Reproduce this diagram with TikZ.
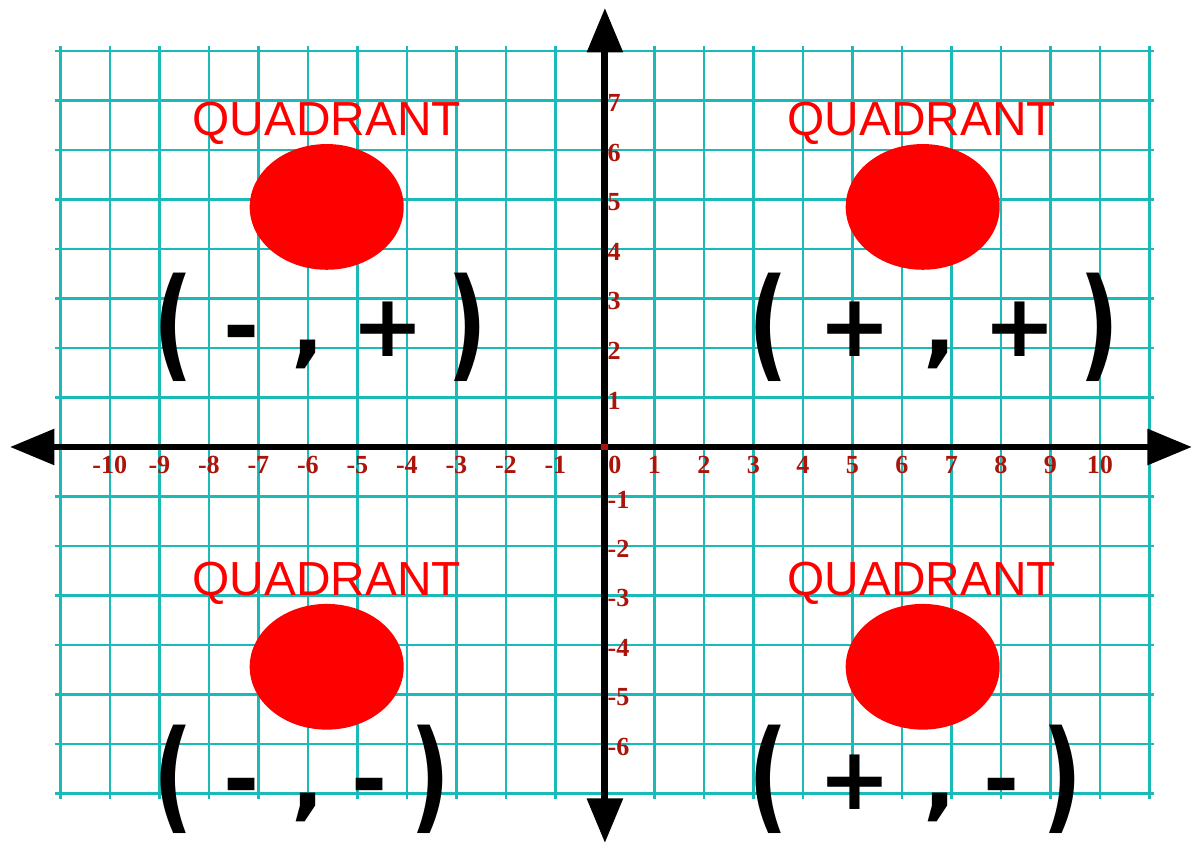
\documentclass[tikz,border=0pt]{standalone}
\usepackage{fontspec}
\usepackage{graphicx}
\usetikzlibrary{arrows.meta}
\newfontfamily\quadfont{Liberation Sans}
\newfontfamily\signfont{DejaVu Sans}
\newfontfamily\numfont{Liberation Serif}
\definecolor{gridteal}{RGB}{26,186,184}
\definecolor{numred}{RGB}{170,20,10}
\newcommand{\tallparen}[1]{\raisebox{-0.1em}{\scalebox{1}[1.4]{#1}}}
\newcommand{\signpair}[2]{\tallparen{(}\hspace{0.348em}#1\hspace{0.36em},\hspace{0.31em}#2\hspace{0.27em}\tallparen{)}}

\begin{document}
\begin{tikzpicture}[x=1cm, y=1cm,
    axis/.style={line width=4pt,
      {Triangle[length=0.9cm, width=0.7cm]}-{Triangle[length=0.9cm, width=0.7cm]}},
    quad/.style={red, anchor=base, inner sep=0pt, font=\quadfont\fontsize{27.5}{30}\selectfont},
    signs/.style={anchor=west, inner sep=0pt, font=\signfont\bfseries\fontsize{50}{60}\selectfont},
    xnum/.style={numred, inner sep=0pt, font=\numfont\bfseries\fontsize{15}{17}\selectfont},
    ynum/.style={xnum, anchor=west}]
  \useasboundingbox (-12.22,-8.04) rectangle (11.86,9.03);
  \draw[gridteal, line width=1.5pt] (-11.1,-7.12) grid (11.1,8.1);
  % axes
  \coordinate (xl) at (-12.02,0);
  \coordinate (xr) at (11.86,0);
  \coordinate (yb) at (0,-8.0);
  \coordinate (yt) at (0,8.87);
  \draw[axis] (xl) -- (xr);
  \draw[axis] (yb) -- (yt);
  \fill[numred] (-0.07,-0.07) rectangle (0.07,0.07);
  % tick numbers
  \foreach \x in {-10,...,-1,1,2,...,10}{
    \node[xnum] (xn\x) at (\x,-0.37) {\x};
  }
  \node[xnum] (xn0) at (0.2,-0.37) {0};
  \foreach \y in {-6,...,-1,1,2,...,7}{
    \node[ynum] (yn\y) at (0.05,\y-0.06) {\y};
  }
  % quadrants
  \node[quad] (q1) at (6.40,6.30) {QUADRANT};
  \node[quad] (q2) at (-5.62,6.30) {QUADRANT};
  \node[quad] (q3) at (-5.62,-2.99) {QUADRANT};
  \node[quad] (q4) at (6.40,-2.99) {QUADRANT};
  \fill[red] (6.42,4.85) ellipse [x radius=1.556, y radius=1.27];
  \fill[red] (-5.62,4.85) ellipse [x radius=1.556, y radius=1.27];
  \fill[red] (-5.62,-4.44) ellipse [x radius=1.556, y radius=1.27];
  \fill[red] (6.42,-4.44) ellipse [x radius=1.556, y radius=1.27];
  \node[signs] (s1) at (2.9,2.42) {\signpair{+}{+}};
  \node[signs] (s2) at (-9.12,2.42) {\signpair{-}{+}};
  \node[signs] (s3) at (-9.12,-6.72) {\signpair{-}{-}};
  \node[signs] (s4) at (2.9,-6.72) {\signpair{+}{-}};
\end{tikzpicture}
\end{document}
